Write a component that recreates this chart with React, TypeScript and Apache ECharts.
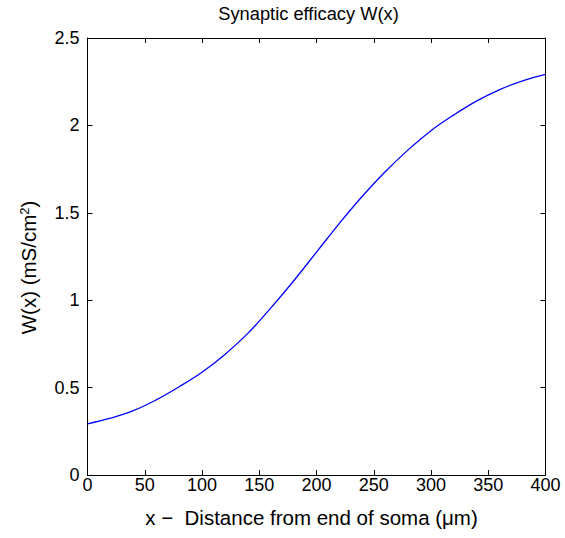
import React, { useEffect, useRef } from "react";
import * as echarts from "echarts";

const titleText = "Synaptic efficacy W(x)";
const xName = "x \u2212  Distance from end of soma (\u03bcm)";
const yName = "W(x) (mS/cm{sup|2})";

const xValues = [0, 20, 40, 60, 80, 100, 120, 140, 160, 180, 200, 220, 240, 260, 280, 300, 320, 340, 360, 380, 400];
const wValues = [0.293, 0.325, 0.368, 0.43, 0.505, 0.588, 0.69, 0.81, 0.955, 1.11, 1.275, 1.44, 1.595, 1.735, 1.86, 1.97, 2.06, 2.14, 2.205, 2.255, 2.292];

const FONT = "'Liberation Sans', Arial, Helvetica, sans-serif";

export default function App() {
  const ref = useRef<HTMLDivElement>(null);
  useEffect(() => {
    if (!ref.current) return;
    const chart = echarts.init(ref.current, null, { renderer: "svg" });
    const axisLine = { show: true, onZero: false, lineStyle: { color: "#000", width: 1 } };
    const tick = { show: true, inside: true, length: 5, lineStyle: { color: "#000", width: 1 } };
    chart.setOption({
      animation: false,
      backgroundColor: "#fff",
      title: {
        text: titleText,
        left: 308.5,
        top: 4,
        padding: 0,
        textAlign: "center",
        textStyle: { fontFamily: FONT, fontSize: 18.3, fontWeight: "normal", color: "#000" },
      },
      grid: { left: 87.5, right: 19.5, top: 38, bottom: 63, containLabel: false },
      xAxis: [
        {
          type: "value",
          min: 0,
          max: 400,
          interval: 50,
          position: "bottom",
          name: xName,
          nameLocation: "middle",
          nameGap: 32,
          nameTextStyle: { fontFamily: FONT, fontSize: 20.5, color: "#000", padding: [0, 10, 0, 0] },
          axisLine,
          axisTick: tick,
          splitLine: { show: false },
          axisLabel: { margin: 1, fontFamily: FONT, fontSize: 18, color: "#000" },
        },
        {
          type: "value",
          min: 0,
          max: 400,
          interval: 50,
          position: "top",
          axisLine,
          axisTick: tick,
          splitLine: { show: false },
          axisLabel: { show: false },
        },
      ],
      yAxis: [
        {
          type: "value",
          min: 0,
          max: 2.5,
          interval: 0.5,
          position: "left",
          name: yName,
          nameLocation: "middle",
          nameGap: 49,
          nameTextStyle: {
            fontFamily: FONT,
            fontSize: 20.5,
            color: "#000",
            lineHeight: 21,
            padding: [0, 22, 0, 0],
            rich: {
              sup: { fontFamily: FONT, fontSize: 13, lineHeight: 15, verticalAlign: "top", color: "#000" },
            },
          },
          axisLine,
          axisTick: tick,
          splitLine: { show: false },
          axisLabel: { margin: 8, fontFamily: FONT, fontSize: 18, color: "#000" },
        },
        {
          type: "value",
          min: 0,
          max: 2.5,
          interval: 0.5,
          position: "right",
          axisLine,
          axisTick: tick,
          splitLine: { show: false },
          axisLabel: { show: false },
        },
      ],
      series: [
        {
          type: "line",
          xAxisIndex: 0,
          yAxisIndex: 0,
          data: xValues.map((x, i) => [x, wValues[i]]),
          smooth: 0.4,
          showSymbol: false,
          lineStyle: { color: "#0000ff", width: 1.3 },
        },
      ],
    });
    return () => chart.dispose();
  }, []);
  return (
    <div
      ref={ref}
      style={{ position: "fixed", left: 0, top: 0, width: 565, height: 538, background: "#fff" }}
    />
  );
}
